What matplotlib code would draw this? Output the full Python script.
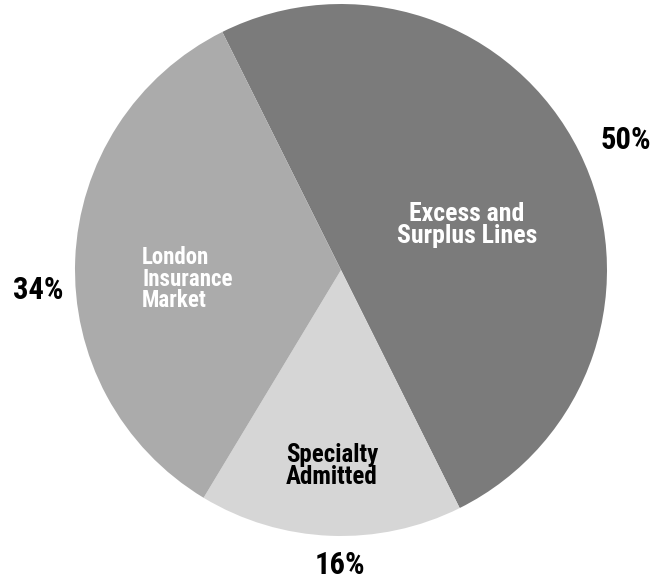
import matplotlib
matplotlib.use("Agg")
import matplotlib.pyplot as plt
from matplotlib import font_manager

# === Data ===
segments = ["Excess and\nSurplus Lines", "Specialty\nAdmitted", "London\nInsurance\nMarket"]
shares = [50, 16, 34]
pct_labels = ["50%", "16%", "34%"]
colors = ["#7b7b7b", "#d6d6d6", "#ababab"]
text_colors = ["white", "black", "white"]


# condensed bold face if one is installed, else a narrow-ish sans
def pick_font():
    cands = []
    for f in font_manager.fontManager.ttflist:
        fn = f.fname.lower()
        if ("condensed" in fn or "narrow" in fn) and "bold" in fn and "oblique" not in fn and "italic" not in fn:
            cands.append(f.fname)
    if cands:
        cands.sort(key=lambda s: ("liberation" not in s.lower(), "roboto" not in s.lower(), s))
        return font_manager.FontProperties(fname=cands[0])
    return font_manager.FontProperties(family=["Roboto", "Liberation Sans", "DejaVu Sans"], weight="bold")


FP = pick_font()

W, H = 655, 584
fig = plt.figure(figsize=(W / 100, H / 100), dpi=100)

# pie box in pixels: centre (341, 270), radius 266
cx, cy, r = 341, 270, 266
ax = fig.add_axes([(cx - r) / W, (H - cy - r) / H, 2 * r / W, 2 * r / H])
ax.pie(shares, colors=colors, startangle=116.5, counterclock=False,
       radius=1, wedgeprops=dict(linewidth=0))
ax.set_xlim(-1, 1)
ax.set_ylim(-1, 1)
ax.axis("off")


def px(x, y):
    return x / W, 1 - y / H


# segment names inside the wedges
name_pos = [(467, 225, "center"), (286, 466, "left"), (142, 279, "left")]
name_size = [18.5, 18, 16.5]
for name, (x, y, ha), c, s in zip(segments, name_pos, text_colors, name_size):
    fp = FP.copy()
    fp.set_size(s)
    fig.text(*px(x, y), name, ha=ha, va="center", color=c,
             fontproperties=fp, linespacing=0.9)

# percentages outside
pct_pos = [(626, 140), (340, 565), (38, 290)]
for lab, (x, y) in zip(pct_labels, pct_pos):
    fp = FP.copy()
    fp.set_size(22)
    fig.text(*px(x, y), lab, ha="center", va="center", color="black",
             fontproperties=fp)

fig.savefig("out.png", dpi=100)
